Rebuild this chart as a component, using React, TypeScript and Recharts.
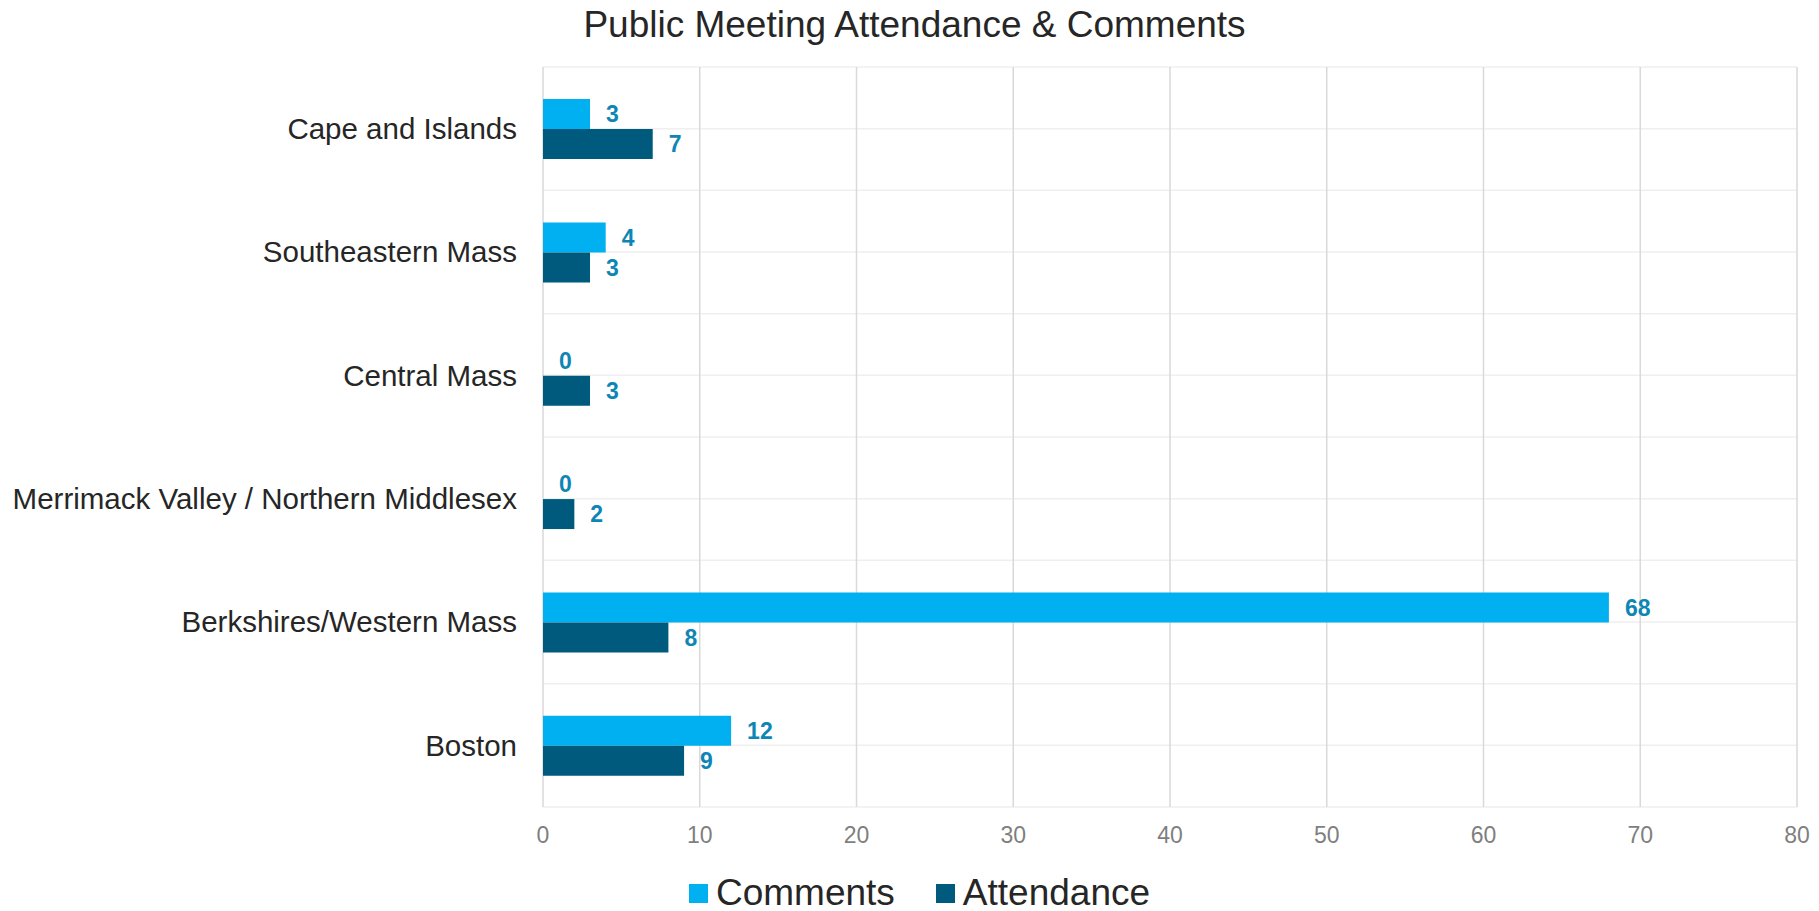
import React from 'react';
import { BarChart, Bar, XAxis, YAxis, CartesianGrid, Legend, LabelList } from 'recharts';

const regions = [
    'Cape and Islands',
    'Southeastern Mass',
    'Central Mass',
    'Merrimack Valley / Northern Middlesex',
    'Berkshires/Western Mass',
    'Boston',
];
const comments = [3, 4, 0, 0, 68, 12];
const attendance = [7, 3, 3, 2, 8, 9];
const xTicks = [0, 10, 20, 30, 40, 50, 60, 70, 80];
const seriesOrder = ['Comments', 'Attendance'];

const data = regions.map((name, i) => ({ name, comments: comments[i], attendance: attendance[i] }));

const FONT = '"Liberation Sans", Arial, Helvetica, sans-serif';
const LABEL_COLOR = '#0e86b5';
const W = 1819;
const H = 911;

// lines on both the band edges and the band centres
const bandLines = ({ offset }: any) => {
    const n = regions.length * 2;
    const step = offset.height / n;
    return Array.from({ length: n + 1 }, (_, i) => offset.top + i * step);
};

// value label drawn even for zero-length bars
const ValueLabel = (props: any) => {
    const { x, y, width, height, value } = props;
    return (
        <text
            x={Number(x) + Number(width) + 16}
            y={Number(y) + Number(height) / 2}
            dy="0.355em"
            fill={LABEL_COLOR}
            fontSize={23}
            fontWeight="bold"
            fontFamily={FONT}
        >
            {value}
        </text>
    );
};

const LegendContent = ({ payload }: any) => {
    const items = [...(payload || [])].sort(
        (a: any, b: any) => seriesOrder.indexOf(a.value) - seriesOrder.indexOf(b.value)
    );
    return (
        <div style={{ display: 'flex', justifyContent: 'center', alignItems: 'center', gap: 41, height: 36, fontFamily: FONT }}>
            {items.map((p: any) => (
                <div key={p.value} style={{ display: 'flex', alignItems: 'center' }}>
                    <span style={{ width: 19, height: 19, background: p.color, marginRight: 8, display: 'inline-block' }} />
                    <span style={{ fontSize: 37, color: '#262626' }}>{p.value}</span>
                </div>
            ))}
        </div>
    );
};

const App: React.FC = () => (
    <div style={{ position: 'absolute', left: 0, top: 0, width: W, height: H, fontFamily: FONT }}>
        <BarChart
            width={W}
            height={H}
            layout="vertical"
            data={data}
            margin={{ top: 67, right: 22, left: 0, bottom: 0 }}
            barCategoryGap="26%"
            barGap={0}
        >
            <CartesianGrid vertical={false} stroke="#efefef" strokeWidth={1.5} horizontalCoordinatesGenerator={bandLines} />
            <CartesianGrid horizontal={false} stroke="#d9d9d9" strokeWidth={1.5} />
            <XAxis
                type="number"
                domain={[0, 80]}
                ticks={xTicks}
                axisLine={false}
                tickLine={false}
                tickSize={0}
                tickMargin={20}
                height={68}
                tick={{ fill: '#7f7f7f', fontSize: 23, fontFamily: FONT }}
            />
            <YAxis
                type="category"
                dataKey="name"
                width={543}
                axisLine={false}
                tickLine={false}
                tickSize={0}
                tickMargin={26}
                interval={0}
                tick={{ fill: '#262626', fontSize: 29.5, fontFamily: FONT }}
            />
            <Legend
                verticalAlign="bottom"
                content={<LegendContent />}
                wrapperStyle={{ left: 10, width: W, height: 36 }}
            />
            <Bar dataKey="comments" name="Comments" fill="#00b0f0" minPointSize={0.01} isAnimationActive={false}>
                <LabelList dataKey="comments" content={<ValueLabel />} />
            </Bar>
            <Bar dataKey="attendance" name="Attendance" fill="#005a7d" minPointSize={0.01} isAnimationActive={false}>
                <LabelList dataKey="attendance" content={<ValueLabel />} />
            </Bar>
        </BarChart>
        <svg width={W} height={60} style={{ position: 'absolute', left: 0, top: 0 }}>
            <text x={914.5} y={37} textAnchor="middle" fontSize={37} fill="#262626" fontFamily={FONT}>
                Public Meeting Attendance &amp; Comments
            </text>
        </svg>
    </div>
);

export default App;
